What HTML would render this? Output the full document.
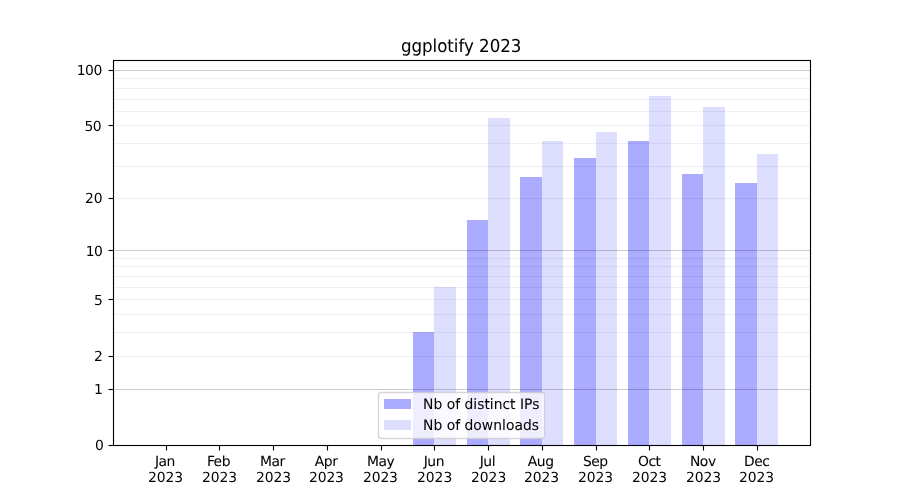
<!DOCTYPE html>
<html lang="en">
<head>
<meta charset="utf-8">
<title>ggplotify 2023</title>
<style>
html,body{margin:0;padding:0;background:#fff;overflow:hidden}
svg{display:block;will-change:transform}
text{text-rendering:geometricPrecision;font-family:"DejaVu Sans","Liberation Sans",sans-serif;fill:#000}
.t10{font-size:13.8889px}
.t12{font-size:16.6667px}
</style>
</head>
<body>
<svg width="900" height="500" viewBox="0 0 900 500">
<rect x="0" y="0" width="900" height="500" fill="#ffffff"/>
<!-- bars -->
<g shape-rendering="crispEdges" fill="#0000ff">
<rect x="413" y="332" width="21" height="113" fill-opacity="0.33"/>
<rect x="434" y="287" width="22" height="158" fill-opacity="0.13"/>
<rect x="467" y="220" width="21" height="225" fill-opacity="0.33"/>
<rect x="488" y="118" width="22" height="327" fill-opacity="0.13"/>
<rect x="520" y="177" width="22" height="268" fill-opacity="0.33"/>
<rect x="542" y="141" width="21" height="304" fill-opacity="0.13"/>
<rect x="574" y="158" width="22" height="287" fill-opacity="0.33"/>
<rect x="596" y="132" width="21" height="313" fill-opacity="0.13"/>
<rect x="628" y="141" width="21" height="304" fill-opacity="0.33"/>
<rect x="649" y="96" width="22" height="349" fill-opacity="0.13"/>
<rect x="682" y="174" width="21" height="271" fill-opacity="0.33"/>
<rect x="703" y="107" width="22" height="338" fill-opacity="0.13"/>
<rect x="735" y="183" width="22" height="262" fill-opacity="0.33"/>
<rect x="757" y="154" width="21" height="291" fill-opacity="0.13"/>
</g>
<!-- grid -->
<g stroke="#000" stroke-width="1.1111" fill="none">
<line x1="113" y1="389.5" x2="811" y2="389.5" stroke-opacity="0.2"/>
<line x1="113" y1="250.5" x2="811" y2="250.5" stroke-opacity="0.2"/>
<line x1="113" y1="70.5" x2="811" y2="70.5" stroke-opacity="0.2"/>
<line x1="113" y1="356.5" x2="811" y2="356.5" stroke-opacity="0.06"/>
<line x1="113" y1="332.5" x2="811" y2="332.5" stroke-opacity="0.06"/>
<line x1="113" y1="314.5" x2="811" y2="314.5" stroke-opacity="0.06"/>
<line x1="113" y1="299.5" x2="811" y2="299.5" stroke-opacity="0.06"/>
<line x1="113" y1="287.5" x2="811" y2="287.5" stroke-opacity="0.06"/>
<line x1="113" y1="276.5" x2="811" y2="276.5" stroke-opacity="0.06"/>
<line x1="113" y1="266.5" x2="811" y2="266.5" stroke-opacity="0.06"/>
<line x1="113" y1="258.5" x2="811" y2="258.5" stroke-opacity="0.06"/>
<line x1="113" y1="198.5" x2="811" y2="198.5" stroke-opacity="0.06"/>
<line x1="113" y1="166.5" x2="811" y2="166.5" stroke-opacity="0.06"/>
<line x1="113" y1="143.5" x2="811" y2="143.5" stroke-opacity="0.06"/>
<line x1="113" y1="125.5" x2="811" y2="125.5" stroke-opacity="0.06"/>
<line x1="113" y1="111.5" x2="811" y2="111.5" stroke-opacity="0.06"/>
<line x1="113" y1="99.5" x2="811" y2="99.5" stroke-opacity="0.06"/>
<line x1="113" y1="88.5" x2="811" y2="88.5" stroke-opacity="0.06"/>
<line x1="113" y1="78.5" x2="811" y2="78.5" stroke-opacity="0.06"/>
</g>
<!-- ticks and spines -->
<g stroke="#000" stroke-width="1.1111" fill="none">
<line x1="166.5" y1="445.5" x2="166.5" y2="450.5"/>
<line x1="219.5" y1="445.5" x2="219.5" y2="450.5"/>
<line x1="273.5" y1="445.5" x2="273.5" y2="450.5"/>
<line x1="327.5" y1="445.5" x2="327.5" y2="450.5"/>
<line x1="381.5" y1="445.5" x2="381.5" y2="450.5"/>
<line x1="434.5" y1="445.5" x2="434.5" y2="450.5"/>
<line x1="488.5" y1="445.5" x2="488.5" y2="450.5"/>
<line x1="542.5" y1="445.5" x2="542.5" y2="450.5"/>
<line x1="596.5" y1="445.5" x2="596.5" y2="450.5"/>
<line x1="649.5" y1="445.5" x2="649.5" y2="450.5"/>
<line x1="703.5" y1="445.5" x2="703.5" y2="450.5"/>
<line x1="757.5" y1="445.5" x2="757.5" y2="450.5"/>
<line x1="113.5" y1="445.5" x2="108.5" y2="445.5"/>
<line x1="113.5" y1="389.5" x2="108.5" y2="389.5"/>
<line x1="113.5" y1="356.5" x2="108.5" y2="356.5"/>
<line x1="113.5" y1="299.5" x2="108.5" y2="299.5"/>
<line x1="113.5" y1="250.5" x2="108.5" y2="250.5"/>
<line x1="113.5" y1="198.5" x2="108.5" y2="198.5"/>
<line x1="113.5" y1="125.5" x2="108.5" y2="125.5"/>
<line x1="113.5" y1="70.5" x2="108.5" y2="70.5"/>
<rect x="113.5" y="60.5" width="697" height="385" stroke-linejoin="miter"/>
</g>
<!-- x tick labels -->
<text class="t10" text-anchor="middle" x="164.949" y="466.000" letter-spacing="-0.500" stroke="#000" stroke-width="0.050">Jan</text>
<text class="t10" text-anchor="middle" x="165.449" y="482.000" letter-spacing="-0.100">2023</text>
<text class="t10" text-anchor="middle" x="218.436" y="466.000" letter-spacing="-0.500" stroke="#000" stroke-width="0.050">Feb</text>
<text class="t10" text-anchor="middle" x="219.436" y="482.000" letter-spacing="-0.100">2023</text>
<text class="t10" text-anchor="middle" x="272.422" y="466.000" letter-spacing="-0.500" stroke="#000" stroke-width="0.050">Mar</text>
<text class="t10" text-anchor="middle" x="273.422" y="482.000" letter-spacing="-0.100">2023</text>
<text class="t10" text-anchor="middle" x="326.159" y="466.000" letter-spacing="-0.450" stroke="#000" stroke-width="0.050">Apr</text>
<text class="t10" text-anchor="middle" x="326.409" y="482.000" letter-spacing="-0.150">2023</text>
<text class="t10" text-anchor="middle" x="380.645" y="466.000" letter-spacing="-0.500" stroke="#000" stroke-width="0.050">May</text>
<text class="t10" text-anchor="middle" x="380.395" y="482.000" letter-spacing="-0.150">2023</text>
<text class="t10" text-anchor="middle" x="433.882" y="466.000" letter-spacing="-0.500" stroke="#000" stroke-width="0.050">Jun</text>
<text class="t10" text-anchor="middle" x="434.632" y="482.000" letter-spacing="-0.050">2023</text>
<text class="t10" text-anchor="middle" x="487.368" y="466.000" letter-spacing="-0.450" stroke="#000" stroke-width="0.050">Jul</text>
<text class="t10" text-anchor="middle" x="488.618" y="482.000" letter-spacing="-0.050">2023</text>
<text class="t10" text-anchor="middle" x="540.605" y="466.000" letter-spacing="-0.400" stroke="#000" stroke-width="0.050">Aug</text>
<text class="t10" text-anchor="middle" x="541.605" y="482.000" letter-spacing="-0.050">2023</text>
<text class="t10" text-anchor="middle" x="595.341" y="466.000" letter-spacing="-0.500" stroke="#000" stroke-width="0.050">Sep</text>
<text class="t10" text-anchor="middle" x="595.591" y="482.000" letter-spacing="-0.050">2023</text>
<text class="t10" text-anchor="middle" x="649.328" y="466.000" letter-spacing="-0.500" stroke="#000" stroke-width="0.050">Oct</text>
<text class="t10" text-anchor="middle" x="649.578" y="482.000" letter-spacing="-0.100">2023</text>
<text class="t10" text-anchor="middle" x="702.814" y="466.000" letter-spacing="-0.450" stroke="#000" stroke-width="0.050">Nov</text>
<text class="t10" text-anchor="middle" x="703.564" y="482.000" letter-spacing="-0.100">2023</text>
<text class="t10" text-anchor="middle" x="756.801" y="466.000" letter-spacing="-0.500" stroke="#000" stroke-width="0.050">Dec</text>
<text class="t10" text-anchor="middle" x="756.551" y="482.000" letter-spacing="-0.100">2023</text>
<!-- y tick labels -->
<text class="t10" text-anchor="end" x="103.778" y="450.000">0</text>
<text class="t10" text-anchor="end" x="102.778" y="394.000">1</text>
<text class="t10" text-anchor="end" x="102.778" y="361.000">2</text>
<text class="t10" text-anchor="end" x="102.778" y="305.000">5</text>
<text class="t10" text-anchor="end" x="102.528" y="256.000" letter-spacing="-0.400">10</text>
<text class="t10" text-anchor="end" x="102.278" y="203.000" letter-spacing="-0.250">20</text>
<text class="t10" text-anchor="end" x="101.278" y="131.000" letter-spacing="-0.400">50</text>
<text class="t10" text-anchor="end" x="101.778" y="75.000" letter-spacing="-0.500">100</text>
<!-- title -->
<text class="t12" text-anchor="middle" transform="translate(461.125,52.000) scale(1,1.0700)" x="0" y="0" letter-spacing="-0.025" stroke="#000" stroke-width="0.040">ggplotify 2023</text>
<!-- legend -->
<rect x="378.5" y="392.5" width="166" height="46" rx="2.778" ry="2.778" fill="#fff" fill-opacity="0.8" stroke="none"/>
<rect x="378.5" y="392.5" width="166" height="46" rx="2.778" ry="2.778" fill="none" stroke="#ccc" stroke-opacity="0.8" stroke-width="1.3889"/>
<rect shape-rendering="crispEdges" x="384" y="399" width="27" height="10" fill="#0000ff" fill-opacity="0.33"/>
<rect shape-rendering="crispEdges" x="384" y="420" width="27" height="10" fill="#0000ff" fill-opacity="0.13"/>
<text class="t10" text-anchor="start" transform="translate(423.120,409.000) scale(1,1.0400)" stroke="#000" stroke-width="0.040">Nb of distinct IPs</text>
<text class="t10" text-anchor="start" transform="translate(422.995,430.000) scale(1,1.0400)" letter-spacing="0.025" stroke="#000" stroke-width="0.040">Nb of downloads</text>
</svg>
</body>
</html>
